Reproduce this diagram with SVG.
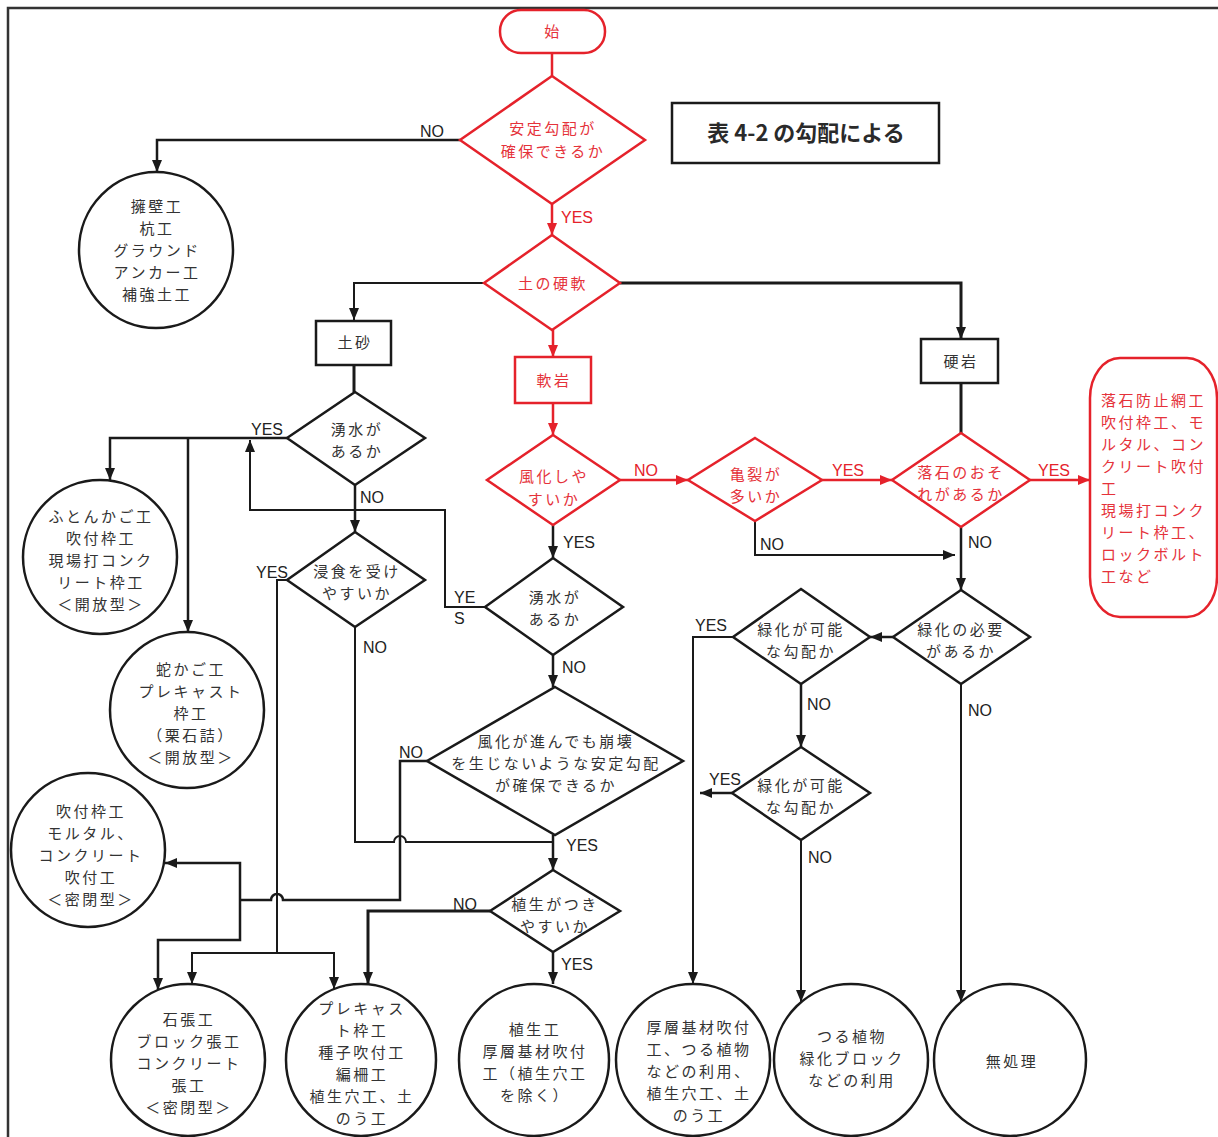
<svg xmlns="http://www.w3.org/2000/svg" width="1218" height="1137" viewBox="0 0 1218 1137">
<defs>
<style>
.blk{fill:#fff;stroke:#1a1a1a;stroke-width:2.5}
.red{fill:#fff;stroke:#e5222b;stroke-width:2.5}
.t{font-family:"Noto Sans CJK JP","Noto Sans",sans-serif;font-size:15px;letter-spacing:2.5px;fill:#333;text-anchor:middle}
.tr{font-family:"Noto Sans CJK JP","Noto Sans",sans-serif;font-size:15px;letter-spacing:2.5px;fill:#e5323a;text-anchor:middle}
.tl{font-family:"Noto Sans CJK JP","Noto Sans",sans-serif;font-size:15px;letter-spacing:2.5px;fill:#e5323a}
.lb{font-family:"Liberation Sans",Arial,sans-serif;font-size:16px;fill:#222}
.lr{font-family:"Liberation Sans",Arial,sans-serif;font-size:16px;fill:#e5222b}
.c{fill:none;stroke:#1a1a1a;stroke-width:2.5}
.c2{fill:none;stroke:#1a1a1a;stroke-width:2}
.c3{fill:none;stroke:#1a1a1a;stroke-width:3}
.cr{fill:none;stroke:#e5222b;stroke-width:2.5}
</style>
<marker id="ab" viewBox="0 0 12 10" refX="12" refY="5" markerWidth="12" markerHeight="10" markerUnits="userSpaceOnUse" orient="auto"><path d="M0,0 L12,5 L0,10 z" fill="#1a1a1a"/></marker>
<marker id="ar" viewBox="0 0 12 10" refX="12" refY="5" markerWidth="12" markerHeight="10" markerUnits="userSpaceOnUse" orient="auto"><path d="M0,0 L12,5 L0,10 z" fill="#e5222b"/></marker>
</defs>
<rect width="1218" height="1137" fill="#fff"/>
<path d="M8,1137 V8 H1218" fill="none" stroke="#333" stroke-width="2.5"/>

<g id="connectors">
<path class="cr" d="M552,53 V76"/>
<path class="c" d="M460,140 H157 V172" marker-end="url(#ab)"/>
<path class="cr" d="M552,204 V235" marker-end="url(#ar)"/>
<path class="c2" d="M484,283 H354 V320" marker-end="url(#ab)"/>
<path class="c3" d="M620,283 H961 V339" marker-end="url(#ab)"/>
<path class="cr" d="M553,330 V357" marker-end="url(#ar)"/>
<path class="c3" d="M354,365 V392"/>
<path class="c" d="M287,438 H110 V480" marker-end="url(#ab)"/>
<path class="c" d="M188,438 V632" marker-end="url(#ab)"/>
<path class="c2" d="M485,607 H445 V510 H250 V440" marker-end="url(#ab)"/>
<path class="c" d="M355,485 V532" marker-end="url(#ab)"/>
<path class="c2" d="M287,580 H277 V953"/>
<path class="c2" d="M277,953 H192 V984" marker-end="url(#ab)"/>
<path class="c2" d="M277,953 H334 V989" marker-end="url(#ab)"/>
<path class="c2" d="M355,627 V842 H394 A6,6 0 0 1 406,842 H553"/>
<path class="c" d="M427,761 H400 V900 H283 A6,6 0 0 0 271,900 H240"/>
<path class="c" d="M240,900 V863 H165" marker-end="url(#ab)"/>
<path class="c" d="M240,900 V940 H158 V990" marker-end="url(#ab)"/>
<path class="c3" d="M490,911 H368 V984" marker-end="url(#ab)"/>
<path class="c" d="M553,952 V984" marker-end="url(#ab)"/>
<path class="c" d="M553,655 V687" marker-end="url(#ab)"/>
<path class="c" d="M553,835 V870" marker-end="url(#ab)"/>
<path class="cr" d="M553,403 V435" marker-end="url(#ar)"/>
<path class="c" d="M553,525 V558" marker-end="url(#ab)"/>
<path class="cr" d="M620,480 H688" marker-end="url(#ar)"/>
<path class="cr" d="M822,480 H892" marker-end="url(#ar)"/>
<path class="cr" d="M1030,480 H1090" marker-end="url(#ar)"/>
<path class="c2" d="M755,521 V555 H955" marker-end="url(#ab)"/>
<path class="c3" d="M961,383 V433"/>
<path class="c" d="M961,527 V590" marker-end="url(#ab)"/>
<path class="c" d="M893,637 H870" marker-end="url(#ab)"/>
<path class="c2" d="M961,684 V1002" marker-end="url(#ab)"/>
<path class="c2" d="M733,637 H693 V984" marker-end="url(#ab)"/>
<path class="c" d="M801,684 V747" marker-end="url(#ab)"/>
<path class="c" d="M732,793 H700" marker-end="url(#ab)"/>
<path class="c2" d="M801,840 V1002" marker-end="url(#ab)"/>
</g>

<g id="labels">
<text class="lb" x="420" y="137">NO</text>
<text class="lr" x="561" y="223">YES</text>
<text class="lb" x="251" y="435">YES</text>
<text class="lb" x="360" y="503">NO</text>
<text class="lb" x="256" y="578">YES</text>
<text class="lb" x="363" y="653">NO</text>
<text class="lb" x="454" y="603">YE</text>
<text class="lb" x="454" y="624">S</text>
<text class="lr" x="634" y="476">NO</text>
<text class="lb" x="563" y="548">YES</text>
<text class="lb" x="760" y="550">NO</text>
<text class="lr" x="832" y="476">YES</text>
<text class="lr" x="1038" y="476">YES</text>
<text class="lb" x="968" y="548">NO</text>
<text class="lb" x="968" y="716">NO</text>
<text class="lb" x="807" y="710">NO</text>
<text class="lb" x="695" y="631">YES</text>
<text class="lb" x="709" y="785">YES</text>
<text class="lb" x="808" y="863">NO</text>
<text class="lb" x="562" y="673">NO</text>
<text class="lb" x="399" y="758">NO</text>
<text class="lb" x="566" y="851">YES</text>
<text class="lb" x="453" y="910">NO</text>
<text class="lb" x="561" y="970">YES</text>
</g>

<g id="start"><rect class="red" x="500" y="10" width="105" height="43" rx="21"/><text class="tr" x="553" y="37">始</text></g>

<g id="d-antei"><polygon class="red" points="552,76 645,140 552,204 460,140"/><text class="tr" x="553" y="134">安定勾配が</text><text class="tr" x="553" y="157">確保できるか</text></g>

<g id="table-note"><rect x="672" y="103" width="267" height="60" fill="#fff" stroke="#1a1a1a" stroke-width="2.5"/><text x="806" y="141" font-family="'Noto Sans CJK JP',sans-serif" font-size="22" font-weight="bold" fill="#2a2a2a" text-anchor="middle">表 4-2 の勾配による</text></g>

<g id="c-youheki"><ellipse class="blk" cx="156" cy="250" rx="77" ry="78"/>
<text class="t" x="157" y="212">擁壁工</text><text class="t" x="157" y="234">杭工</text><text class="t" x="157" y="256">グラウンド</text><text class="t" x="157" y="278">アンカー工</text><text class="t" x="157" y="300">補強土工</text></g>

<g id="d-kounan"><polygon class="red" points="552,235 620,283 552,330 484,283"/><text class="tr" x="553" y="289">土の硬軟</text></g>

<g id="b-dosha"><rect class="blk" x="316" y="321" width="75" height="44" stroke-width="3"/><text class="t" x="355" y="348">土砂</text></g>
<g id="b-nanngan"><rect class="red" x="515" y="357" width="76" height="46" stroke-width="3"/><text class="tr" x="554" y="386">軟岩</text></g>
<g id="b-kougan"><rect class="blk" x="921" y="339" width="77" height="44" stroke-width="3"/><text class="t" x="961" y="367">硬岩</text></g>

<g id="d-yusui1"><polygon class="blk" points="355,392 425,438 355,485 287,438"/><text class="t" x="357" y="435">湧水が</text><text class="t" x="357" y="457">あるか</text></g>

<g id="c-futon"><ellipse class="blk" cx="100" cy="557" rx="77" ry="77"/>
<text class="t" x="101" y="522">ふとんかご工</text><text class="t" x="101" y="544">吹付枠工</text><text class="t" x="101" y="566">現場打コンク</text><text class="t" x="101" y="588">リート枠工</text><text class="t" x="101" y="610">＜開放型＞</text></g>

<g id="d-shinshoku"><polygon class="blk" points="355,532 425,580 355,627 287,580"/><text class="t" x="357" y="577">浸食を受け</text><text class="t" x="357" y="599">やすいか</text></g>

<g id="c-jakago"><ellipse class="blk" cx="187" cy="710" rx="77" ry="78"/>
<text class="t" x="191" y="675">蛇かご工</text><text class="t" x="191" y="697">プレキャスト</text><text class="t" x="191" y="719">枠工</text><text class="t" x="191" y="741">（栗石詰）</text><text class="t" x="191" y="763">＜開放型＞</text></g>

<g id="c-fukitsuke"><ellipse class="blk" cx="88" cy="850" rx="77" ry="77"/>
<text class="t" x="91" y="817">吹付枠工</text><text class="t" x="91" y="839">モルタル、</text><text class="t" x="91" y="861">コンクリート</text><text class="t" x="91" y="883">吹付工</text><text class="t" x="91" y="905">＜密閉型＞</text></g>

<g id="d-fuka1"><polygon class="red" points="553,435 620,480 553,525 487,480"/><text class="tr" x="554" y="482">風化しや</text><text class="tr" x="554" y="505">すいか</text></g>

<g id="d-kiretsu"><polygon class="red" points="755,438 822,480 755,521 688,480"/><text class="tr" x="756" y="480">亀裂が</text><text class="tr" x="756" y="502">多いか</text></g>

<g id="d-rakuseki"><polygon class="red" points="961,433 1030,480 961,527 892,480"/><text class="tr" x="961" y="478">落石のおそ</text><text class="tr" x="961" y="500">れがあるか</text></g>

<g id="r-rakuseki"><rect class="red" x="1090" y="358" width="127" height="259" rx="30" ry="40"/>
<text class="tl" x="1101" y="406">落石防止網工</text><text class="tl" x="1101" y="428">吹付枠工、モ</text><text class="tl" x="1101" y="450">ルタル、コン</text><text class="tl" x="1101" y="472">クリート吹付</text><text class="tl" x="1101" y="494">工</text><text class="tl" x="1101" y="516">現場打コンク</text><text class="tl" x="1101" y="538">リート枠工、</text><text class="tl" x="1101" y="560">ロックボルト</text><text class="tl" x="1101" y="582">工など</text></g>

<g id="d-yusui2"><polygon class="blk" points="553,558 623,607 553,655 485,607"/><text class="t" x="555" y="603">湧水が</text><text class="t" x="555" y="625">あるか</text></g>

<g id="d-fuka2"><polygon class="blk" points="555,687 683,761 555,835 427,761"/><text class="t" x="556" y="747">風化が進んでも崩壊</text><text class="t" x="556" y="769">を生じないような安定勾配</text><text class="t" x="556" y="791">が確保できるか</text></g>

<g id="d-shokusei"><polygon class="blk" points="553,870 620,911 553,952 490,911"/><text class="t" x="555" y="910">植生がつき</text><text class="t" x="555" y="932">やすいか</text></g>

<g id="d-ryokka-hitsuyo"><polygon class="blk" points="961,590 1030,637 961,684 893,637"/><text class="t" x="961" y="635">緑化の必要</text><text class="t" x="961" y="657">があるか</text></g>

<g id="d-ryokka-kano1"><polygon class="blk" points="801,589 870,637 801,684 733,637"/><text class="t" x="801" y="635">緑化が可能</text><text class="t" x="801" y="657">な勾配か</text></g>

<g id="d-ryokka-kano2"><polygon class="blk" points="801,747 870,793 801,840 732,793"/><text class="t" x="801" y="791">緑化が可能</text><text class="t" x="801" y="813">な勾配か</text></g>

<g id="c-ishibari"><ellipse class="blk" cx="188" cy="1060" rx="77" ry="76"/>
<text class="t" x="189" y="1025">石張工</text><text class="t" x="189" y="1047">ブロック張工</text><text class="t" x="189" y="1069">コンクリート</text><text class="t" x="189" y="1091">張工</text><text class="t" x="189" y="1113">＜密閉型＞</text></g>

<g id="c-precast"><ellipse class="blk" cx="361" cy="1060" rx="75" ry="76"/>
<text class="t" x="362" y="1014">プレキャス</text><text class="t" x="362" y="1036">ト枠工</text><text class="t" x="362" y="1058">種子吹付工</text><text class="t" x="362" y="1080">編柵工</text><text class="t" x="362" y="1102">植生穴工、土</text><text class="t" x="362" y="1124">のう工</text></g>

<g id="c-shokuseiko"><ellipse class="blk" cx="534" cy="1060" rx="75" ry="76"/>
<text class="t" x="535" y="1035">植生工</text><text class="t" x="535" y="1057">厚層基材吹付</text><text class="t" x="535" y="1079">工（植生穴工</text><text class="t" x="535" y="1101">を除く）</text></g>

<g id="c-kouso"><ellipse class="blk" cx="693" cy="1060" rx="77" ry="76"/>
<text class="t" x="699" y="1033">厚層基材吹付</text><text class="t" x="699" y="1055">工、つる植物</text><text class="t" x="699" y="1077">などの利用、</text><text class="t" x="699" y="1099">植生穴工、土</text><text class="t" x="699" y="1121">のう工</text></g>

<g id="c-tsuru"><ellipse class="blk" cx="851" cy="1060" rx="77" ry="76"/>
<text class="t" x="852" y="1042">つる植物</text><text class="t" x="852" y="1064">緑化ブロック</text><text class="t" x="852" y="1086">などの利用</text></g>

<g id="c-mushori"><ellipse class="blk" cx="1010" cy="1060" rx="76" ry="76"/>
<text class="t" x="1012" y="1067">無処理</text></g>
</svg>
